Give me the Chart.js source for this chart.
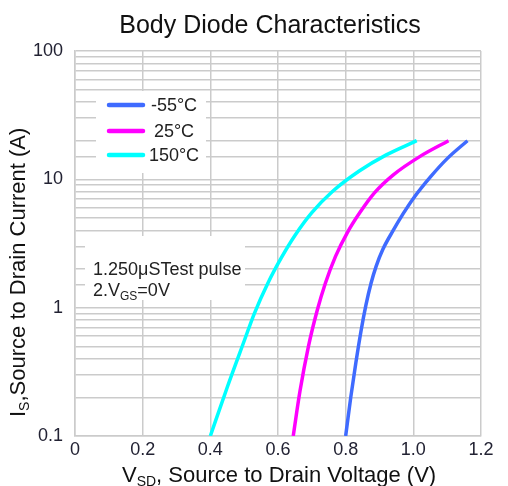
<!DOCTYPE html>
<html>
<head>
<meta charset="utf-8">
<script src="https://cdn.jsdelivr.net/npm/chart.js@4.4.1/dist/chart.umd.min.js"></script>
<style>
  body { margin: 0; background: #fff; }
  canvas { display: block; }
</style>
</head>
<body>
<canvas id="diodeChart" width="508" height="486"></canvas>
<script>
// values (Vsd in volts, Is in amps)
var vsdCold = [0.80, 0.815, 0.83, 0.845, 0.86, 0.875, 0.89, 0.91, 0.94, 0.97, 1.0, 1.05, 1.10, 1.16];
var isCold  = [0.1, 0.2, 0.37, 0.65, 1.05, 1.55, 2.1, 2.85, 3.98, 5.4, 7.1, 10.4, 14.5, 20];

var vsdRoom = [0.645, 0.665, 0.69, 0.716, 0.74, 0.77, 0.805, 0.843, 0.885, 0.94, 1.02, 1.104];
var isRoom  = [0.1, 0.224, 0.5, 0.955, 1.55, 2.51, 3.85, 5.56, 7.85, 10.8, 15.1, 20];

var vsdHot = [0.40, 0.45, 0.50, 0.53, 0.57, 0.61, 0.65, 0.70, 0.76, 0.84, 0.92, 1.01];
var isHot  = [0.1, 0.24, 0.55, 0.9, 1.55, 2.45, 3.65, 5.5, 8.0, 11.6, 15.5, 20];

var seriesLabels = ['-55°C', '25°C', '150°C'];
var seriesColors = ['#3f6bff', '#ff00ff', '#00ffff'];
var xTickLabels = ['0', '0.2', '0.4', '0.6', '0.8', '1.0', '1.2'];
var yTickLabels = ['0.1', '1', '10', '100'];

var gridColor = '#cbcbcb';
var tickColor = '#222233';
var fontFamily = 'Arial, "Liberation Sans", sans-serif';

function toPoints(xs, ys) {
    return xs.map(function (x, i) { return { x: x, y: ys[i] }; });
}

// draws a string with a lowered, smaller subscript part; returns end x
function drawParts(ctx, parts, x, y, size) {
    parts.forEach(function (p) {
        var sz = p.sub ? Math.round(size * 0.65) : size;
        ctx.font = sz + 'px ' + fontFamily;
        ctx.fillText(p.text, x, y + (p.sub ? size * 0.2 : 0));
        x += ctx.measureText(p.text).width;
    });
    return x;
}

var decorPlugin = {
    id: 'decor',
    beforeDraw: function (chart) {
        var ctx = chart.ctx;
        ctx.save();
        ctx.fillStyle = '#fff';
        ctx.fillRect(0, 0, chart.width, chart.height);
        ctx.restore();
    },
    beforeDatasetsDraw: function (chart) {
        var ctx = chart.ctx;
        ctx.save();

        // legend box
        ctx.fillStyle = '#fff';
        ctx.fillRect(96, 91, 110, 82);
        var rows = [105, 131, 155];
        chart.data.datasets.forEach(function (ds, i) {
            ctx.strokeStyle = ds.borderColor;
            ctx.lineWidth = 4.5;
            ctx.lineCap = 'round';
            ctx.beginPath();
            ctx.moveTo(109, rows[i]);
            ctx.lineTo(143, rows[i]);
            ctx.stroke();
            ctx.fillStyle = '#222';
            ctx.font = '18px ' + fontFamily;
            ctx.textAlign = 'center';
            ctx.textBaseline = 'middle';
            ctx.fillText(ds.label, 174, rows[i] + 1);
        });

        // test note box
        ctx.fillStyle = '#fff';
        ctx.fillRect(85, 236, 160, 64);
        ctx.font = '18px ' + fontFamily;
        ctx.textAlign = 'left';
        ctx.textBaseline = 'alphabetic';
        var w1 = ctx.measureText('1.250μSTest pulse').width;
        ctx.fillRect(85, 256, w1 + 10, 24);
        ctx.fillStyle = '#222';
        ctx.fillText('1.250μSTest pulse', 93, 275);
        drawParts(ctx, [{ text: '2.V' }, { text: 'GS', sub: true }, { text: '=0V' }], 93, 296, 18);

        ctx.restore();
    },
    afterDraw: function (chart) {
        var ctx = chart.ctx;
        ctx.save();
        ctx.fillStyle = '#111';
        ctx.textBaseline = 'alphabetic';

        ctx.textAlign = 'center';
        ctx.font = '25px ' + fontFamily;
        ctx.fillText('Body Diode Characteristics', 270, 33);

        ctx.textAlign = 'left';
        drawParts(ctx, [{ text: 'V' }, { text: 'SD', sub: true }, { text: ', Source to Drain Voltage (V)' }], 122, 482, 22);

        ctx.translate(25, 417);
        ctx.rotate(-Math.PI / 2);
        drawParts(ctx, [{ text: 'I' }, { text: 'S', sub: true }, { text: ',Source to Drain Current (A)' }], 0, 0, 22);

        ctx.restore();
    }
};

var chart = new Chart(document.getElementById('diodeChart'), {
    type: 'line',
    data: {
        datasets: [
            { label: seriesLabels[0], data: toPoints(vsdCold, isCold), borderColor: seriesColors[0] },
            { label: seriesLabels[1], data: toPoints(vsdRoom, isRoom), borderColor: seriesColors[1] },
            { label: seriesLabels[2], data: toPoints(vsdHot, isHot), borderColor: seriesColors[2] }
        ]
    },
    options: {
        responsive: false,
        animation: false,
        devicePixelRatio: 1,
        layout: { padding: { top: 51, right: 27, left: 0, bottom: 0 } },
        elements: {
            line: { borderWidth: 3.5, cubicInterpolationMode: 'monotone', fill: false },
            point: { radius: 0 }
        },
        plugins: {
            legend: { display: false },
            title: { display: false },
            tooltip: { enabled: false }
        },
        scales: {
            x: {
                type: 'linear',
                min: 0,
                max: 1.2,
                afterFit: function (s) { s.height = 50; },
                grid: { color: gridColor, lineWidth: 1.5, drawTicks: false },
                border: { color: gridColor, width: 1.5 },
                ticks: {
                    stepSize: 0.2,
                    padding: 3,
                    color: tickColor,
                    font: { family: fontFamily, size: 18 },
                    callback: function (v, i) { return xTickLabels[i]; }
                }
            },
            y: {
                type: 'logarithmic',
                min: 0.1,
                max: 100,
                afterFit: function (s) { s.width = 75; },
                grid: { color: gridColor, lineWidth: 1.5, drawTicks: false },
                border: { color: gridColor, width: 1.5 },
                ticks: {
                    autoSkip: false,
                    padding: 12,
                    color: tickColor,
                    font: { family: fontFamily, size: 18 },
                    callback: function (v) {
                        var lg = Math.log10(v);
                        if (Math.abs(lg - Math.round(lg)) > 1e-6) return '';
                        return yTickLabels[Math.round(lg) + 1];
                    }
                }
            }
        }
    },
    plugins: [decorPlugin]
});
</script>
</body>
</html>
